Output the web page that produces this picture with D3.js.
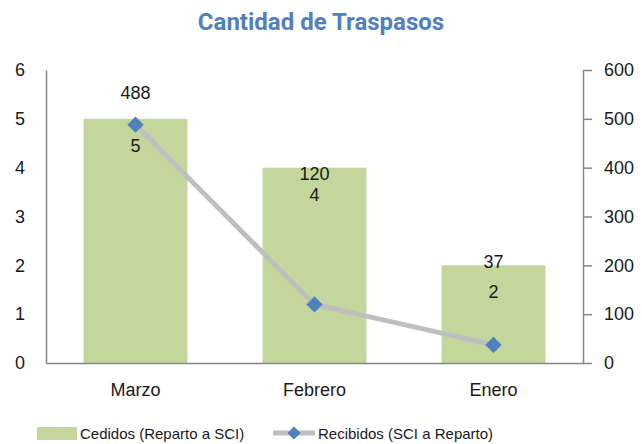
<!DOCTYPE html>
<html>
<head>
<meta charset="utf-8">
<script src="https://cdn.jsdelivr.net/npm/d3@7"></script>
<style>
  body { margin: 0; background: #fff; }
  text { font-family: "Liberation Sans", Arial, sans-serif; }
</style>
</head>
<body>
<div class="chart"></div>
<script>
const months = ['Marzo', 'Febrero', 'Enero']
const cedidos = [5, 4, 2]
const recibidos = [488, 120, 37]
const leftTicks = [0, 1, 2, 3, 4, 5, 6]
const rightTicks = [0, 100, 200, 300, 400, 500, 600]

// manual offsets of the line labels, as placed in the original
const lineLabelDy = [-32, -130, -83]

const width = 642
const height = 444
const margin = { top: 70, right: 59, bottom: 81, left: 46 }
const innerW = width - margin.left - margin.right
const innerH = height - margin.top - margin.bottom

const svg = d3.select('.chart')
  .append('svg')
  .attr('width', width)
  .attr('height', height)

svg.append('text')
  .attr('x', 321)
  .attr('y', 30)
  .attr('text-anchor', 'middle')
  .style('font-family', 'Roboto')
  .style('font-weight', 'bold')
  .style('font-size', '24px')
  .attr('fill', '#4f81bd')
  .text('Cantidad de Traspasos')

const g = svg.append('g')
  .attr('transform', `translate(${margin.left},${margin.top})`)

const x = d3.scaleBand().domain(months).range([0, innerW]).paddingInner(0.42).paddingOuter(0.21)
const yL = d3.scaleLinear().domain([0, 6]).range([innerH, 0])
const yR = d3.scaleLinear().domain([0, 600]).range([innerH, 0])

// bars
g.selectAll('rect.bar')
  .data(months)
  .enter()
  .append('rect')
  .attr('class', 'bar')
  .attr('x', (d) => x(d))
  .attr('y', (d, i) => yL(cedidos[i]))
  .attr('width', x.bandwidth())
  .attr('height', (d, i) => innerH - yL(cedidos[i]))
  .attr('fill', '#c3d69b')

// axes
const axisColor = '#868686'
const left = g.append('g')
  .call(d3.axisLeft(yL).tickValues(leftTicks).tickFormat(d3.format('d')).tickSize(0).tickPadding(21))
left.select('.domain').attr('stroke', axisColor).attr('stroke-width', 1.5)

const right = g.append('g')
  .attr('transform', `translate(${innerW},0)`)
  .call(d3.axisRight(yR).tickValues(rightTicks).tickSize(9).tickSizeOuter(0).tickPadding(12))
right.select('.domain').attr('stroke', axisColor).attr('stroke-width', 1.5)
right.selectAll('.tick line').attr('stroke', axisColor).attr('stroke-width', 1.5)

const bottom = g.append('g')
  .attr('transform', `translate(0,${innerH})`)
  .call(d3.axisBottom(x).tickSize(0).tickPadding(20))
bottom.select('.domain').attr('stroke', axisColor).attr('stroke-width', 1.5)

g.selectAll('.tick text')
  .attr('fill', '#1a1a1a')
  .style('font-size', '18px')
  .style('font-family', '"Liberation Sans", Arial, sans-serif')

// line
const cx = (i) => x(months[i]) + x.bandwidth() / 2
const line = d3.line()
  .x((d, i) => cx(i))
  .y((d) => yR(d))

g.append('path')
  .datum(recibidos)
  .attr('d', line)
  .attr('fill', 'none')
  .attr('stroke', '#bfbfbf')
  .attr('stroke-width', 5)
  .attr('stroke-linejoin', 'round')

const diamond = d3.symbol().type(d3.symbolDiamond2).size(170)
g.selectAll('path.pt')
  .data(recibidos)
  .enter()
  .append('path')
  .attr('class', 'pt')
  .attr('d', diamond)
  .attr('transform', (d, i) => `translate(${cx(i)},${yR(d)})`)
  .attr('fill', '#4f81bd')

// labels
g.selectAll('text.barlab')
  .data(cedidos)
  .enter()
  .append('text')
  .attr('class', 'barlab')
  .attr('x', (d, i) => cx(i))
  .attr('y', (d) => yL(d) + 33)
  .attr('text-anchor', 'middle')
  .style('font-size', '18px')
  .attr('fill', '#1a1a1a')
  .text((d) => d)

g.selectAll('text.linelab')
  .data(recibidos)
  .enter()
  .append('text')
  .attr('class', 'linelab')
  .attr('x', (d, i) => cx(i))
  .attr('y', (d, i) => yR(d) + lineLabelDy[i] + 6)
  .attr('text-anchor', 'middle')
  .style('font-size', '18px')
  .attr('fill', '#1a1a1a')
  .text((d) => d)

// legend
const lg = svg.append('g').attr('transform', 'translate(0,433)')
lg.append('rect').attr('x', 37).attr('y', -6).attr('width', 40).attr('height', 13).attr('fill', '#c3d69b')
lg.append('text').attr('x', 80).attr('y', 6).style('font-size', '15px').attr('fill', '#1a1a1a')
  .text('Cedidos (Reparto a SCI)')
lg.append('line').attr('x1', 273).attr('x2', 315).attr('y1', 0).attr('y2', 0)
  .attr('stroke', '#bfbfbf').attr('stroke-width', 5)
lg.append('path').attr('d', d3.symbol().type(d3.symbolDiamond2).size(110))
  .attr('transform', 'translate(294,0)').attr('fill', '#4f81bd')
lg.append('text').attr('x', 318).attr('y', 6).style('font-size', '15px').attr('fill', '#1a1a1a')
  .text('Recibidos (SCI a Reparto)')
</script>
</body>
</html>
